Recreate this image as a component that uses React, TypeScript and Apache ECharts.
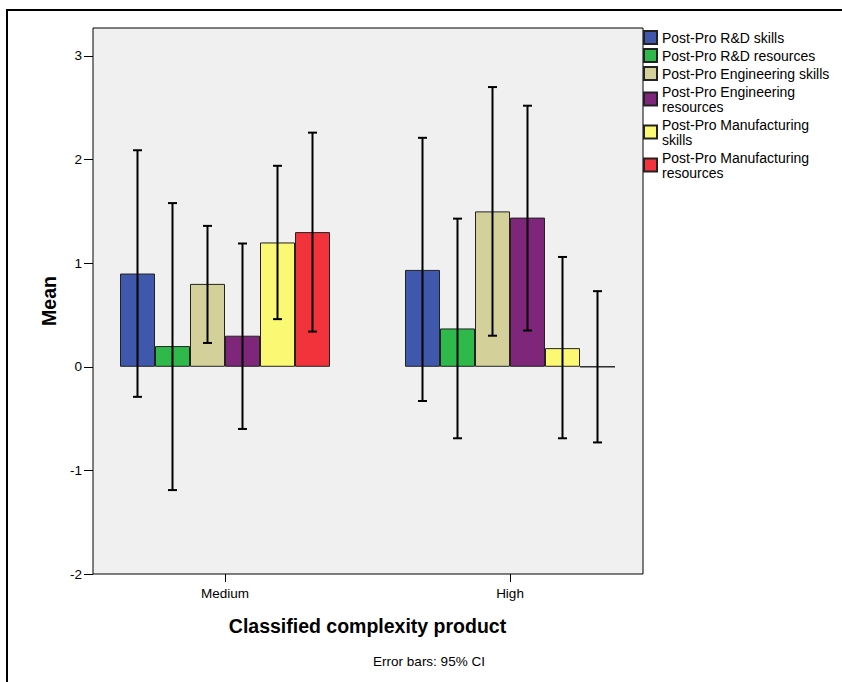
import React, { useEffect, useRef } from "react";
import * as echarts from "echarts";

const categories = ["Medium", "High"];
const seriesNames = [
  "Post-Pro R&D skills",
  "Post-Pro R&D resources",
  "Post-Pro Engineering skills",
  "Post-Pro Engineering resources",
  "Post-Pro Manufacturing skills",
  "Post-Pro Manufacturing resources",
];
const legendLabels = [
  "Post-Pro R&D skills",
  "Post-Pro R&D resources",
  "Post-Pro Engineering skills",
  "Post-Pro Engineering\nresources",
  "Post-Pro Manufacturing\nskills",
  "Post-Pro Manufacturing\nresources",
];
const seriesColors = ["#3f58ac", "#2fb94a", "#d4d09a", "#7d267a", "#fbf873", "#f2333b"];

// means per series, [Medium, High]
const rdSkills = [0.9, 0.935];
const rdResources = [0.2, 0.37];
const engSkills = [0.8, 1.5];
const engResources = [0.3, 1.44];
const mfgSkills = [1.2, 0.18];
const mfgResources = [1.3, 0.0];

// 95% CI lower / upper bounds
const rdSkillsLow = [-0.29, -0.33];
const rdSkillsHigh = [2.09, 2.21];
const rdResourcesLow = [-1.19, -0.69];
const rdResourcesHigh = [1.58, 1.43];
const engSkillsLow = [0.23, 0.3];
const engSkillsHigh = [1.36, 2.7];
const engResourcesLow = [-0.6, 0.35];
const engResourcesHigh = [1.19, 2.52];
const mfgSkillsLow = [0.46, -0.69];
const mfgSkillsHigh = [1.94, 1.06];
const mfgResourcesLow = [0.34, -0.73];
const mfgResourcesHigh = [2.26, 0.73];

const yTicks = [-2, -1, 0, 1, 2, 3];

const FONT = "'Liberation Sans', Arial, sans-serif";
const BAR_W = 35;

export default function App() {
  const ref = useRef<HTMLDivElement>(null);

  useEffect(() => {
    if (!ref.current) return;
    const chart = echarts.init(ref.current, null, { renderer: "svg" });

    const means = [rdSkills, rdResources, engSkills, engResources, mfgSkills, mfgResources];
    const lows = [rdSkillsLow, rdResourcesLow, engSkillsLow, engResourcesLow, mfgSkillsLow, mfgResourcesLow];
    const highs = [rdSkillsHigh, rdResourcesHigh, engSkillsHigh, engResourcesHigh, mfgSkillsHigh, mfgResourcesHigh];

    const errData: number[][] = [];
    for (let s = 0; s < seriesNames.length; s++) {
      for (let c = 0; c < categories.length; c++) {
        errData.push([c, s, lows[s][c], highs[s][c]]);
      }
    }

    const barSeries = seriesNames.map((name, i) => ({
      name,
      type: "bar",
      xAxisIndex: 1,
      yAxisIndex: 1,
      barWidth: BAR_W,
      barGap: "0%",
      data: means[i],
      itemStyle: { color: seriesColors[i], borderColor: "#222", borderWidth: 1 },
      emphasis: { disabled: true },
      z: 2,
    }));

    const nSeries = seriesNames.length;

    const option: any = {
      animation: false,
      textStyle: { fontFamily: FONT },
      grid: [
        {
          left: 93,
          top: 28,
          width: 550,
          height: 546,
          show: true,
          backgroundColor: "#f0f0f0",
          borderColor: "#000",
          borderWidth: 1,
        },
        { left: 82.5, top: 28, width: 570, height: 546, show: false },
      ],
      xAxis: [
        { type: "category", gridIndex: 0, data: categories, show: false },
        {
          type: "category",
          gridIndex: 1,
          data: categories,
          axisLine: { show: false, onZero: false },
          axisTick: { show: true, alignWithLabel: true, length: 8, lineStyle: { color: "#000", width: 1 } },
          axisLabel: { color: "#000", fontSize: 13.5, margin: 12, fontFamily: FONT },
          name: "Classified complexity product",
          nameLocation: "middle",
          nameGap: 42,
          nameTextStyle: { color: "#000", fontSize: 19.5, fontWeight: "bold", fontFamily: FONT },
        },
      ],
      yAxis: [
        {
          type: "value",
          gridIndex: 0,
          min: -2,
          max: 3.27,
          interval: 1,
          axisLine: { show: false },
          splitLine: { show: false },
          axisTick: {
            show: true,
            length: 9,
            customValues: yTicks,
            lineStyle: { color: "#000", width: 1 },
          },
          axisLabel: {
            color: "#000",
            fontSize: 13.5,
            margin: 11,
            customValues: yTicks,
            fontFamily: FONT,
          },
          name: "Mean",
          nameLocation: "middle",
          nameRotate: 90,
          nameGap: 28,
          nameTextStyle: { color: "#000", fontSize: 19.5, fontWeight: "bold", fontFamily: FONT },
        },
        {
          type: "value",
          gridIndex: 1,
          min: -2,
          max: 3.27,
          interval: 1,
          show: false,
          splitLine: { show: false },
        },
      ],
      legend: {
        orient: "vertical",
        left: 638,
        top: 25,
        itemWidth: 13,
        itemHeight: 13,
        itemGap: 3,
        icon: "rect",
        data: seriesNames,
        selectedMode: false,
        formatter: (name: string) => legendLabels[seriesNames.indexOf(name)],
        textStyle: { color: "#000", fontSize: 14, lineHeight: 15, fontFamily: FONT },
      },
      graphic: [
        {
          type: "rect",
          shape: { x: 7, y: 10, width: 1000, height: 1000 },
          style: { fill: "none", stroke: "#000", lineWidth: 2 },
          silent: true,
        },
        {
          type: "text",
          x: 429,
          y: 661,
          style: {
            text: "Error bars: 95% CI",
            fontSize: 13.5,
            fontFamily: FONT,
            fill: "#000",
            align: "center",
            verticalAlign: "middle",
          },
          silent: true,
        },
      ],
      series: [
        ...barSeries,
        {
          type: "custom",
          name: "errors",
          xAxisIndex: 1,
          yAxisIndex: 1,
          data: errData,
          encode: { x: 0, y: [2, 3] },
          z: 5,
          silent: true,
          renderItem: (params: any, api: any) => {
            const c = api.value(0);
            const s = api.value(1);
            const pLo = api.coord([c, api.value(2)]);
            const pHi = api.coord([c, api.value(3)]);
            const x = pLo[0] + (s - (nSeries - 1) / 2) * BAR_W;
            const cap = 4.5;
            const st = { stroke: "#000", lineWidth: 2 };
            return {
              type: "group",
              children: [
                { type: "line", shape: { x1: x, y1: pLo[1], x2: x, y2: pHi[1] }, style: st },
                { type: "line", shape: { x1: x - cap, y1: pHi[1], x2: x + cap, y2: pHi[1] }, style: st },
                { type: "line", shape: { x1: x - cap, y1: pLo[1], x2: x + cap, y2: pLo[1] }, style: st },
              ],
            };
          },
        },
      ],
    };

    chart.setOption(option);
    return () => chart.dispose();
  }, []);

  return (
    <div
      ref={ref}
      style={{ position: "absolute", left: 0, top: 0, width: 842, height: 682 }}
    />
  );
}
